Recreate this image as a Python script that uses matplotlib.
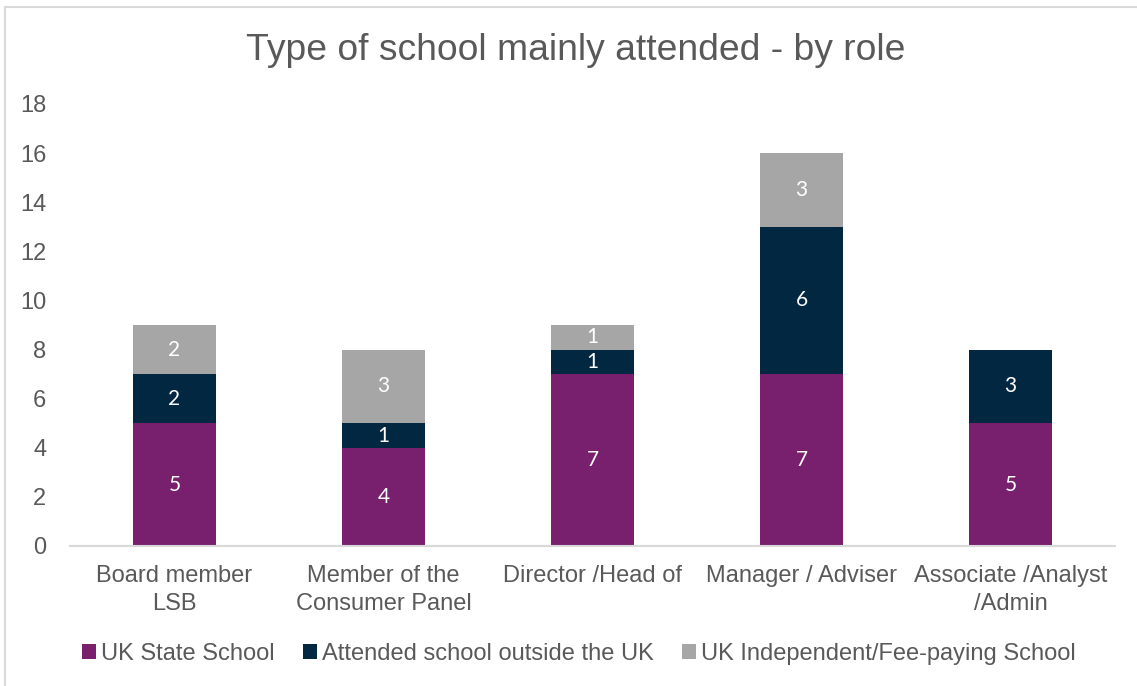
import matplotlib
matplotlib.use("Agg")
import matplotlib.pyplot as plt
from matplotlib.patches import Patch
from matplotlib.lines import Line2D
import numpy as np

roles = ["Board member\nLSB", "Member of the\nConsumer Panel", "Director /Head of",
         "Manager / Adviser", "Associate /Analyst\n/Admin"]
series_names = ["UK State School", "Attended school outside the UK",
                "UK Independent/Fee-paying School"]
state_school = [5, 4, 7, 7, 5]
outside_uk = [2, 1, 1, 6, 3]
independent = [2, 3, 1, 3, 0]
y_ticks = [0, 2, 4, 6, 8, 10, 12, 14, 16, 18]

colors = ["#78206E", "#022841", "#A6A6A6"]
text_grey = "#595959"

W, H = 1137, 686
fig = plt.figure(figsize=(W / 100, H / 100), dpi=100)
plt.rcParams["font.family"] = ["Liberation Sans", "DejaVu Sans"]

# outer chart frame
fig.add_artist(Line2D([5 / W, 5 / W], [0, 1 - 7 / H], transform=fig.transFigure,
                      color="#D9D9D9", lw=1.5))
fig.add_artist(Line2D([5 / W, 1], [1 - 7 / H, 1 - 7 / H], transform=fig.transFigure,
                      color="#D9D9D9", lw=1.5))

ax = fig.add_axes([70 / W, 1 - 546 / H, (1115 - 70) / W, (546 - 104) / H])

x = np.arange(len(roles))
width = 0.4
bottom = np.zeros(len(roles))
for vals, col in zip([state_school, outside_uk, independent], colors):
    vals = np.array(vals, dtype=float)
    ax.bar(x, vals, width, bottom=bottom, color=col, zorder=2)
    for xi, b, v in zip(x, bottom, vals):
        if v > 0:
            ax.text(xi, b + v / 2, f"{int(v)}", ha="center", va="center",
                    color="white", fontsize=15, family=["Lato", "DejaVu Sans"])
    bottom += vals

ax.set_xlim(-0.5, len(roles) - 0.5)
ax.set_ylim(0, 18)
ax.set_yticks(y_ticks)
ax.set_xticks(x)
ax.set_xticklabels(roles, fontsize=17, color=text_grey, linespacing=1.35)
ax.tick_params(axis="y", length=0, pad=17, labelsize=17, labelcolor=text_grey)
ax.tick_params(axis="x", length=0, pad=14)
for s in ["top", "right", "left"]:
    ax.spines[s].set_visible(False)
ax.spines["bottom"].set_color("#D9D9D9")
ax.spines["bottom"].set_linewidth(1.5)

fig.text(576 / W, 1 - 50 / H, "Type of school mainly attended - by role",
         ha="center", va="center", fontsize=26.8, color=text_grey)

handles = [Patch(facecolor=c, edgecolor="none") for c in colors]
fig.legend(handles, series_names, loc="center", bbox_to_anchor=(579 / W, 1 - 654 / H),
           ncol=3, frameon=False, fontsize=17, handlelength=0.6, handleheight=0.6,
           handletextpad=0.2, columnspacing=1.2, labelcolor=text_grey)

fig.savefig("out.png", dpi=100)
